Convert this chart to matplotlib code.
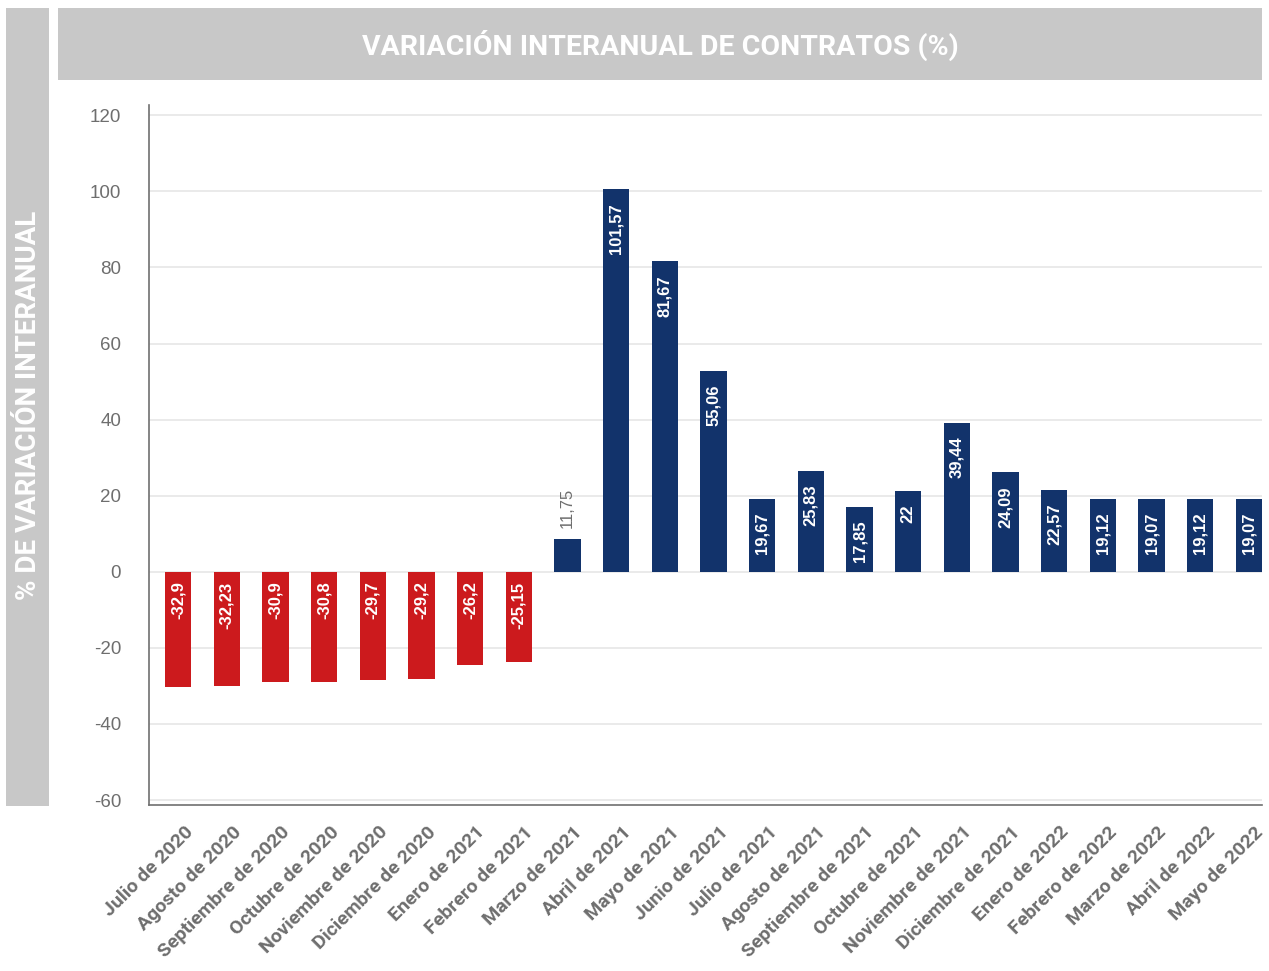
import matplotlib
matplotlib.use("Agg")
import matplotlib.pyplot as plt
from matplotlib.patches import Rectangle
import matplotlib.transforms as mtransforms

categories = ["Julio de 2020", "Agosto de 2020", "Septiembre de 2020", "Octubre de 2020",
              "Noviembre de 2020", "Diciembre de 2020", "Enero de 2021", "Febrero de 2021",
              "Marzo de 2021", "Abril de 2021", "Mayo de 2021", "Junio de 2021",
              "Julio de 2021", "Agosto de 2021", "Septiembre de 2021", "Octubre de 2021",
              "Noviembre de 2021", "Diciembre de 2021", "Enero de 2022", "Febrero de 2022",
              "Marzo de 2022", "Abril de 2022", "Mayo de 2022"]
# bar heights as drawn
bar_values = [-30.2, -30.0, -28.9, -28.9, -28.4, -28.1, -24.4, -23.7,
              8.7, 100.5, 81.6, 52.9, 19.2, 26.6, 17.1, 21.3, 39.2, 26.1, 21.6,
              19.2, 19.2, 19.2, 19.2]
# printed labels
value_labels = ["-32,9", "-32,23", "-30,9", "-30,8", "-29,7", "-29,2", "-26,2", "-25,15",
                "11,75", "101,57", "81,67", "55,06", "19,67", "25,83", "17,85", "22",
                "39,44", "24,09", "22,57", "19,12", "19,07", "19,12", "19,07"]
yticks = [-60, -40, -20, 0, 20, 40, 60, 80, 100, 120]

RED = "#CC1A1D"
NAVY = "#12336B"
BAND = "#C8C8C8"
TXT = "#6E6E6E"

W, H = 1269, 971
fig = plt.figure(figsize=(W / 100, H / 100), dpi=100)

def fx(px):
    return px / W

def fy(py):
    return 1 - py / H

# header bands
fig.patches.append(Rectangle((fx(58), fy(80)), fx(1262) - fx(58), fy(8) - fy(80),
                             transform=fig.transFigure, facecolor=BAND, edgecolor="none"))
fig.patches.append(Rectangle((fx(6), fy(806)), fx(49) - fx(6), fy(8) - fy(806),
                             transform=fig.transFigure, facecolor=BAND, edgecolor="none"))
fig.text(fx(660), fy(45), "VARIACIÓN INTERANUAL DE CONTRATOS (%)", color="white",
         fontsize=20.5, fontweight="bold", family="Roboto", ha="center", va="center")
fig.text(fx(29), fy(405), "% DE VARIACIÓN INTERANUAL", color="white",
         fontsize=20, fontweight="bold", family="Roboto", ha="center", va="center",
         rotation=90)

ax = fig.add_axes([fx(149), fy(805), fx(1262) - fx(149), fy(105) - fy(805)])
x = list(range(len(categories)))
colors = [RED if v < 0 else NAVY for v in bar_values]
ax.bar(x, bar_values, width=0.54, color=colors, zorder=3)

ax.set_xlim(-0.6, len(categories) - 1 + 0.27)
ax.set_ylim(-61.3, 122.7)
ax.set_yticks(yticks)
ax.set_yticklabels([str(t) for t in yticks])
ax.grid(axis="y", color="#E6E6E6", linewidth=1.2, zorder=0)
ax.set_axisbelow(True)
for s in ["top", "right"]:
    ax.spines[s].set_visible(False)
for s in ["left", "bottom"]:
    ax.spines[s].set_color("#707070")
    ax.spines[s].set_linewidth(1.2)
ax.tick_params(axis="y", length=0, pad=20, labelsize=13.5, labelcolor=TXT)
ax.tick_params(axis="x", length=0, pad=13, labelsize=14, labelcolor=TXT)
ax.set_xticks(x)
ax.set_xticklabels(categories, rotation=45, ha="right", rotation_mode="anchor",
                   fontweight="bold", family="Roboto")
for lab in ax.get_yticklabels():
    lab.set_family("Liberation Sans")
offset = mtransforms.ScaledTranslation(4 / 72, 0, fig.dpi_scale_trans)
for lab in ax.get_xticklabels():
    lab.set_transform(lab.get_transform() + offset)

for xi, v, lab in zip(x, bar_values, value_labels):
    if v < 0:
        ax.annotate(lab, (xi, 0), xytext=(0, -7), textcoords="offset points",
                    rotation=90, ha="center", va="top", color="white",
                    fontsize=12, fontweight="bold", family="Liberation Sans", zorder=4)
    elif v < 12:
        ax.annotate(lab, (xi, v), xytext=(0, 8), textcoords="offset points",
                    rotation=90, ha="center", va="bottom", color=TXT,
                    fontsize=12, family="Liberation Sans", zorder=4)
    else:
        ax.annotate(lab, (xi, v), xytext=(0, -10), textcoords="offset points",
                    rotation=90, ha="center", va="top", color="white",
                    fontsize=12, fontweight="bold", family="Liberation Sans", zorder=4)

fig.savefig("out.png", dpi=100)
